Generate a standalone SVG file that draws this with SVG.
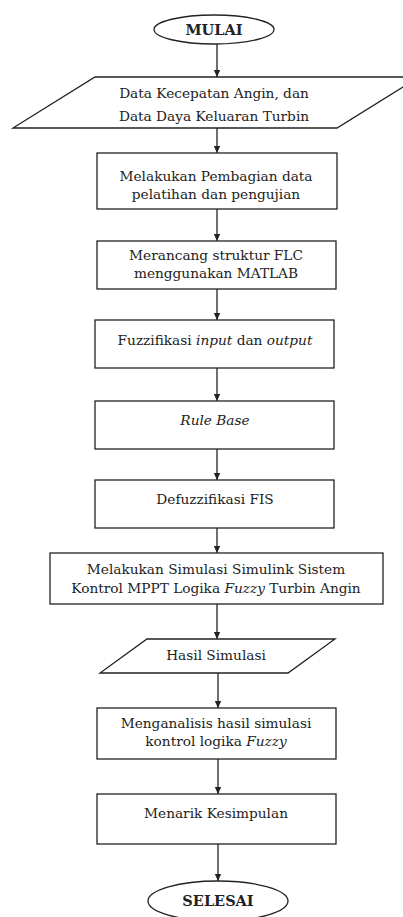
<svg xmlns="http://www.w3.org/2000/svg" width="403" height="917" viewBox="0 0 403 917">
<style>
.s{fill:#fff;stroke:#222;stroke-width:1.3}
.t{font-family:"DejaVu Serif","Liberation Serif",serif;font-size:13.7px;fill:#222;text-anchor:middle}
.b{font-weight:bold;font-size:14.5px}
.i{font-style:italic}
.c{stroke:#222;stroke-width:1.3;fill:none}
</style>
<defs>
<marker id="ah" markerWidth="8" markerHeight="8" refX="7" refY="4" orient="auto" markerUnits="userSpaceOnUse">
<path d="M0,0.8 L7,4 L0,7.2 Z" fill="#222"/>
</marker>
</defs>
<rect width="403" height="917" fill="#fff"/>
<g id="connectors">
<line class="c" x1="217" y1="44" x2="217" y2="77" marker-end="url(#ah)"/>
<line class="c" x1="217" y1="128" x2="217" y2="153" marker-end="url(#ah)"/>
<line class="c" x1="217" y1="209" x2="217" y2="241" marker-end="url(#ah)"/>
<line class="c" x1="217" y1="289" x2="217" y2="320" marker-end="url(#ah)"/>
<line class="c" x1="217" y1="368" x2="217" y2="401" marker-end="url(#ah)"/>
<line class="c" x1="217" y1="449" x2="217" y2="480" marker-end="url(#ah)"/>
<line class="c" x1="217" y1="528" x2="217" y2="553" marker-end="url(#ah)"/>
<line class="c" x1="217" y1="604" x2="217" y2="639" marker-end="url(#ah)"/>
<line class="c" x1="218" y1="673" x2="218" y2="708" marker-end="url(#ah)"/>
<line class="c" x1="218" y1="759" x2="218" y2="794" marker-end="url(#ah)"/>
<line class="c" x1="218" y1="844" x2="218" y2="881" marker-end="url(#ah)"/>
</g>
<g id="mulai">
<ellipse class="s" cx="214" cy="29.5" rx="60" ry="14.5"/>
<text class="t b" x="214" y="34.5">MULAI</text>
</g>
<g id="data-input">
<polygon class="s" points="95,77 419,77 337,128 13,128"/>
<text class="t" x="214" y="98">Data Kecepatan Angin, dan</text>
<text class="t" x="214" y="121">Data Daya Keluaran Turbin</text>
</g>
<g id="pembagian">
<rect class="s" x="97" y="153" width="240" height="56"/>
<text class="t" x="216" y="181">Melakukan Pembagian data</text>
<text class="t" x="216" y="199">pelatihan dan pengujian</text>
</g>
<g id="merancang">
<rect class="s" x="97" y="241" width="239" height="48"/>
<text class="t" x="216" y="260">Merancang struktur FLC</text>
<text class="t" x="216" y="278">menggunakan MATLAB</text>
</g>
<g id="fuzzifikasi">
<rect class="s" x="95" y="320" width="239" height="48"/>
<text class="t" x="215" y="345">Fuzzifikasi <tspan class="i">input</tspan> dan <tspan class="i">output</tspan></text>
</g>
<g id="rulebase">
<rect class="s" x="95" y="401" width="239" height="48"/>
<text class="t i" x="215" y="425">Rule Base</text>
</g>
<g id="defuzzifikasi">
<rect class="s" x="95" y="480" width="239" height="48"/>
<text class="t" x="215" y="504">Defuzzifikasi FIS</text>
</g>
<g id="simulasi">
<rect class="s" x="50" y="553" width="333" height="51"/>
<text class="t" x="216" y="574">Melakukan Simulasi Simulink Sistem</text>
<text class="t" x="216" y="593">Kontrol MPPT Logika <tspan class="i">Fuzzy</tspan> Turbin Angin</text>
</g>
<g id="hasil">
<polygon class="s" points="147,639 335,639 288,673 100,673"/>
<text class="t" x="216" y="660">Hasil Simulasi</text>
</g>
<g id="menganalisis">
<rect class="s" x="97" y="708" width="239" height="51"/>
<text class="t" x="216" y="728">Menganalisis hasil simulasi</text>
<text class="t" x="216" y="746">kontrol logika <tspan class="i">Fuzzy</tspan></text>
</g>
<g id="kesimpulan">
<rect class="s" x="97" y="794" width="239" height="50"/>
<text class="t" x="216" y="818">Menarik Kesimpulan</text>
</g>
<g id="selesai">
<ellipse class="s" cx="218" cy="901" rx="70" ry="20"/>
<text class="t b" x="218" y="906">SELESAI</text>
</g>
</svg>
